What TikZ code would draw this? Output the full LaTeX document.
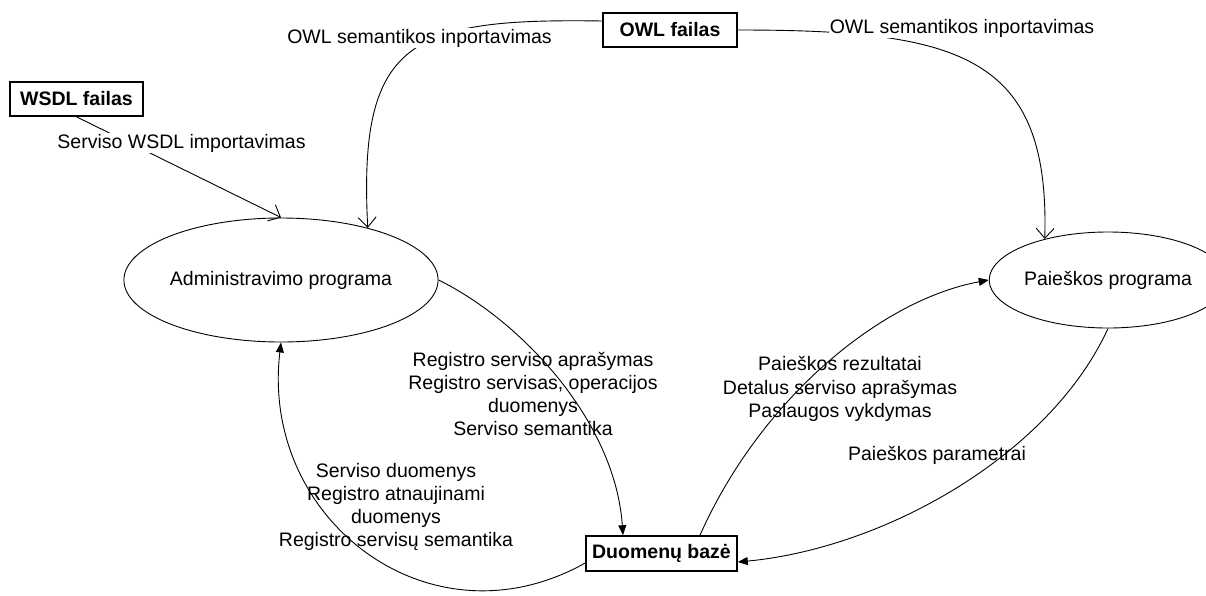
\documentclass[tikz,border=0pt]{standalone}
\usepackage{fontspec}
\setmainfont{Liberation Sans}
\usetikzlibrary{arrows.meta,shapes.geometric}

\begin{document}
\begin{tikzpicture}[x=1pt,y=-1pt,
  font=\fontsize{19.5}{23.3}\selectfont,
  filebox/.style={draw,line width=1.6pt,inner sep=0pt,
    font=\fontsize{19.5}{23.3}\selectfont\bfseries},
  program/.style={draw,ellipse,line width=0.9pt,inner sep=0pt},
  flow/.style={line width=0.9pt},
  importarrow/.style={flow,-{Straight Barb[length=10pt,width=18pt]}},
  dataarrow/.style={flow,-{Triangle[length=10pt,width=8pt]}},
  cover/.style={fill=white,inner xsep=1pt,inner ysep=0.5pt},
  note/.style={align=center,inner sep=0pt}]

\useasboundingbox (0,0) rectangle (1206,595);

% files, database and the two programs
\node[filebox,minimum width=134pt,minimum height=34pt] (owl)  at (670,30)     {OWL failas};
\node[filebox,minimum width=133pt,minimum height=34pt] (wsdl) at (76.5,99)    {WSDL failas};
\node[filebox,minimum width=151pt,minimum height=35pt] (db)   at (661.5,553.5) {Duomenų bazė};
\node[program,minimum width=250pt,minimum height=124pt] (admin)  at (281,280)  {Administravimo programa};
\node[program,minimum width=190pt,minimum height=96pt]  (search) at (1108,280) {Paieškos programa};

% imports
\draw[importarrow] ([yshift=9pt]owl.west) .. controls (410,18) and (358,40) .. (admin.31);
\draw[importarrow] (owl.east) .. controls (960,30) and (1050,55) .. (search.147);
\draw[importarrow] (wsdl.south) -- (admin.north);

\node[cover,anchor=base] (owlA)  at (419.5,43) {OWL semantikos inportavimas};
\node[cover,anchor=base] (owlB)  at (962,33)   {OWL semantikos inportavimas};
\node[cover,anchor=base] (wsdlL) at (181.5,148) {Serviso WSDL importavimas};

% data flows through the database
\draw[dataarrow] (admin.east) .. controls (520,320) and (615,420) .. ([xshift=-38.5pt]db.north);
\draw[dataarrow] ([yshift=-9.5pt]db.west) .. controls (430,650) and (260,520) .. (admin.south);
\draw[dataarrow] ([xshift=38.5pt]db.north) .. controls (760,400) and (880,300) .. (search.west);
\draw[dataarrow] (search.south) .. controls (1050,455) and (885,548) .. ([yshift=-8.5pt]db.east);

\node[note] (regA) at (533,394)
  {Registro serviso aprašymas\\Registro servisas, operacijos\\duomenys\\Serviso semantika};
\node[note] (regB) at (396,507)
  {Serviso duomenys\\Registro atnaujinami\\duomenys\\Registro servisų semantika};
\node[note] (srchA) at (840,389)
  {Paieškos rezultatai\\Detalus serviso aprašymas\\Paslaugos vykdymas};
\node[note,anchor=base] (srchB) at (937,460) {Paieškos parametrai};
\end{tikzpicture}
\end{document}
